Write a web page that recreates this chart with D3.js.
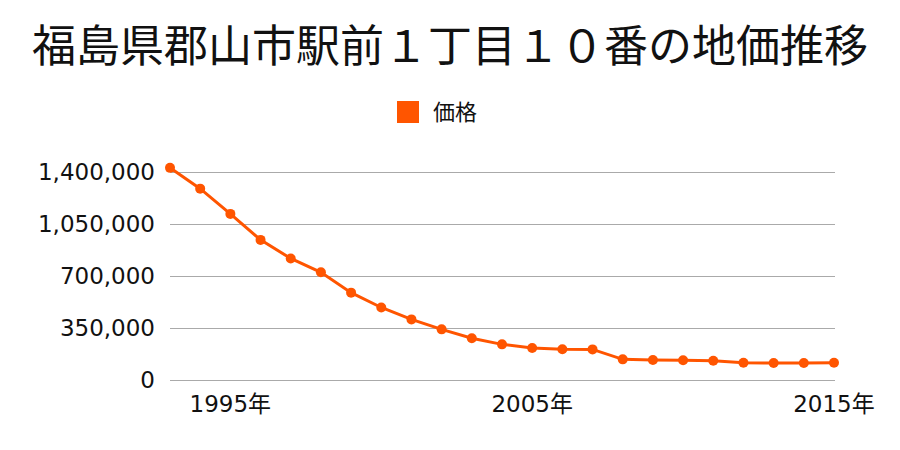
<!DOCTYPE html>
<html><head><meta charset="utf-8">
<script src="https://cdn.jsdelivr.net/npm/d3@7"></script>
<style>body{margin:0;background:#fff}svg{display:block}text{font-family:"Noto Sans CJK JP","Noto Sans",sans-serif;fill:#111}.num{font-family:"DejaVu Sans","Noto Sans CJK JP",sans-serif}</style>
</head><body><svg id="c" width="900" height="450"></svg>
<script>
const title = "福島県郡山市駅前１丁目１０番の地価推移";
const seriesName = "価格";
const years = [1993,1994,1995,1996,1997,1998,1999,2000,2001,2002,2003,2004,2005,2006,2007,2008,2009,2010,2011,2012,2013,2014,2015];
const prices = [1430000,1290000,1120000,945000,820000,727000,590000,490000,410000,343000,283000,242000,217000,209000,208000,141000,137000,135000,132000,118000,116000,116000,118000];
const yTicks = [0,350000,700000,1050000,1400000];
const xTickYears = [1995,2005,2015];
const color = "#ff5500";

const svg = d3.select("#c");
const x = d3.scalePoint().domain(years).range([170, 834]);
const y = d3.scaleLinear().domain([0, 1400000]).range([380.3, 172.3]);

svg.append("text").attr("x", 450).attr("y", 62).attr("text-anchor", "middle")
  .style("font-size", "44px").text(title);

// legend
svg.append("rect").attr("x", 397).attr("y", 101).attr("width", 22).attr("height", 22).attr("fill", color);
svg.append("text").attr("x", 433).attr("y", 120).style("font-size", "22px").text(seriesName);

// grid
svg.append("g").selectAll("line").data(yTicks).join("line")
  .attr("x1", 170).attr("x2", 835).attr("y1", d => Math.round(y(d)) + 0.5).attr("y2", d => Math.round(y(d)) + 0.5)
  .attr("stroke", "#aaa").attr("stroke-width", 1);

// y labels
svg.append("g").selectAll("text").data(yTicks).join("text").attr("class", "num")
  .attr("x", 155).attr("y", d => y(d) + 8).attr("text-anchor", "end")
  .style("font-size", "23px").text(d => d3.format(",")(d));

// x labels
svg.append("g").selectAll("text").data(xTickYears).join("text").attr("class", "num")
  .attr("x", d => x(d)).attr("y", 412).attr("text-anchor", "middle")
  .style("font-size", "23px").text(d => d + "年");

// line
svg.append("path").datum(years.map((d, i) => [d, prices[i]]))
  .attr("fill", "none").attr("stroke", color).attr("stroke-width", 3)
  .attr("d", d3.line().x(d => x(d[0])).y(d => y(d[1])));

svg.append("g").selectAll("circle").data(years.map((d, i) => [d, prices[i]])).join("circle")
  .attr("cx", d => x(d[0])).attr("cy", d => y(d[1])).attr("r", 5).attr("fill", color);
</script></body></html>
